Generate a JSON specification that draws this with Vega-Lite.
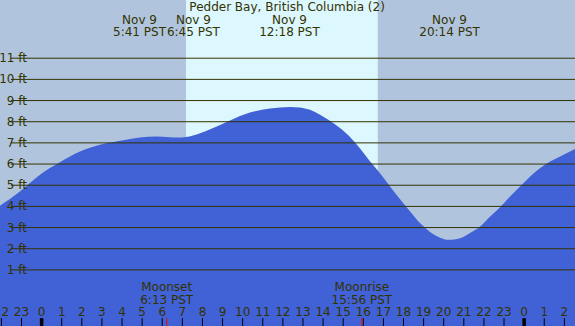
{
  "$schema": "https://vega.github.io/schema/vega-lite/v6.json",
  "width": 575,
  "height": 326,
  "padding": 0,
  "autosize": {"type": "none"},
  "background": "#b0c4de",
  "config": {"view": {"stroke": null, "fill": "#b0c4de"}, "text": {"font": "DejaVu Sans", "fontSize": 12, "color": "#333300"}},
  "datasets": {
    "tide": [
      {"h": -2.07, "ft": 4.03}, {"h": -1.08, "ft": 4.70}, {"h": -0.58, "ft": 5.10}, {"h": -0.08, "ft": 5.49},
      {"h": 0.41, "ft": 5.81}, {"h": 0.91, "ft": 6.09}, {"h": 1.41, "ft": 6.36}, {"h": 1.91, "ft": 6.59},
      {"h": 2.90, "ft": 6.91}, {"h": 3.90, "ft": 7.10}, {"h": 4.89, "ft": 7.26}, {"h": 5.68, "ft": 7.30},
      {"h": 6.38, "ft": 7.27}, {"h": 6.75, "ft": 7.25}, {"h": 7.18, "ft": 7.28}, {"h": 7.88, "ft": 7.46},
      {"h": 8.71, "ft": 7.78}, {"h": 9.37, "ft": 8.06}, {"h": 10.36, "ft": 8.43}, {"h": 11.36, "ft": 8.62},
      {"h": 11.86, "ft": 8.67}, {"h": 12.36, "ft": 8.70}, {"h": 12.85, "ft": 8.67}, {"h": 13.35, "ft": 8.56},
      {"h": 13.85, "ft": 8.33}, {"h": 14.34, "ft": 8.04}, {"h": 14.84, "ft": 7.70},
      {"h": 15.34, "ft": 7.28}, {"h": 15.84, "ft": 6.73}, {"h": 16.34, "ft": 6.12}, {"h": 16.83, "ft": 5.57},
      {"h": 17.33, "ft": 4.94}, {"h": 17.83, "ft": 4.34}, {"h": 18.33, "ft": 3.76}, {"h": 18.82, "ft": 3.21},
      {"h": 19.32, "ft": 2.79}, {"h": 19.82, "ft": 2.52}, {"h": 20.23, "ft": 2.42}, {"h": 20.82, "ft": 2.50},
      {"h": 21.31, "ft": 2.74}, {"h": 21.81, "ft": 3.05}, {"h": 22.31, "ft": 3.52}, {"h": 22.80, "ft": 3.96},
      {"h": 23.30, "ft": 4.47}, {"h": 23.80, "ft": 4.94}, {"h": 24.30, "ft": 5.41}, {"h": 24.80, "ft": 5.81},
      {"h": 25.29, "ft": 6.12}, {"h": 25.79, "ft": 6.36}, {"h": 26.53, "ft": 6.71}
    ],
    "levels": [
      {"ft": 1, "label": "1 ft"}, {"ft": 2, "label": "2 ft"}, {"ft": 3, "label": "3 ft"}, {"ft": 4, "label": "4 ft"},
      {"ft": 5, "label": "5 ft"}, {"ft": 6, "label": "6 ft"}, {"ft": 7, "label": "7 ft"}, {"ft": 8, "label": "8 ft"},
      {"ft": 9, "label": "9 ft"}, {"ft": 10, "label": "10 ft"}, {"ft": 11, "label": "11 ft"}
    ],
    "hours": [
      {"h": -2, "label": "22"}, {"h": -1, "label": "23"}, {"h": 0, "label": "0", "mid": true}, {"h": 1, "label": "1"},
      {"h": 2, "label": "2"}, {"h": 3, "label": "3"}, {"h": 4, "label": "4"}, {"h": 5, "label": "5"},
      {"h": 6, "label": "6"}, {"h": 7, "label": "7"}, {"h": 8, "label": "8"}, {"h": 9, "label": "9"},
      {"h": 10, "label": "10"}, {"h": 11, "label": "11"}, {"h": 12, "label": "12"}, {"h": 13, "label": "13"},
      {"h": 14, "label": "14"}, {"h": 15, "label": "15"}, {"h": 16, "label": "16"}, {"h": 17, "label": "17"},
      {"h": 18, "label": "18"}, {"h": 19, "label": "19"}, {"h": 20, "label": "20"}, {"h": 21, "label": "21"},
      {"h": 22, "label": "22"}, {"h": 23, "label": "23"}, {"h": 24, "label": "0", "mid": true}, {"h": 25, "label": "1"},
      {"h": 26, "label": "2"}
    ],
    "events": [
      {"h": 4.87, "line1": "Nov 9", "line2": "5:41 PST"},
      {"h": 7.55, "line1": "Nov 9", "line2": "6:45 PST"},
      {"h": 12.33, "line1": "Nov 9", "line2": "12:18 PST"},
      {"h": 20.29, "line1": "Nov 9", "line2": "20:14 PST"}
    ],
    "moon": [
      {"h": 6.22, "line1": "Moonset", "line2": "6:13 PST"},
      {"h": 15.93, "line1": "Moonrise", "line2": "15:56 PST"}
    ]
  },
  "layer": [
    {
      "data": {"values": [{"start": 7.18, "end": 16.72}]},
      "mark": {"type": "rect", "color": "#ddf7ff"},
      "encoding": {
        "x": {"field": "start", "type": "quantitative", "scale": {"domain": [-2.07, 26.53], "nice": false, "zero": false}, "axis": null},
        "x2": {"field": "end"},
        "y": {"datum": 13.75, "type": "quantitative", "scale": {"domain": [-1.65, 13.75], "nice": false, "zero": false}, "axis": null},
        "y2": {"datum": -1.65}
      }
    },
    {
      "data": {"name": "tide"},
      "mark": {"type": "area", "color": "#4161d6", "interpolate": "monotone"},
      "encoding": {
        "x": {"field": "h", "type": "quantitative"},
        "y": {"field": "ft", "type": "quantitative"},
        "y2": {"datum": -1.65}
      }
    },
    {
      "data": {"name": "levels"},
      "mark": {"type": "rule", "color": "#333300", "strokeWidth": 1},
      "encoding": {
        "x": {"datum": -1.53, "type": "quantitative"},
        "x2": {"datum": 26.53},
        "y": {"field": "ft", "type": "quantitative"}
      }
    },
    {
      "data": {"name": "levels"},
      "mark": {"type": "text", "align": "right", "baseline": "alphabetic", "yOffset": 4},
      "encoding": {
        "x": {"datum": -0.73, "type": "quantitative"},
        "y": {"field": "ft", "type": "quantitative"},
        "text": {"field": "label"}
      }
    },
    {
      "data": {"values": [{"h": 12.21, "t": "Pedder Bay, British Columbia (2)"}]},
      "mark": {"type": "text", "align": "center", "baseline": "alphabetic"},
      "encoding": {
        "x": {"field": "h", "type": "quantitative"},
        "y": {"datum": 13.21, "type": "quantitative"},
        "text": {"field": "t"}
      }
    },
    {
      "data": {"name": "events"},
      "mark": {"type": "text", "align": "center", "baseline": "alphabetic"},
      "encoding": {
        "x": {"field": "h", "type": "quantitative"},
        "y": {"datum": 12.63, "type": "quantitative"},
        "text": {"field": "line1"}
      }
    },
    {
      "data": {"name": "events"},
      "mark": {"type": "text", "align": "center", "baseline": "alphabetic"},
      "encoding": {
        "x": {"field": "h", "type": "quantitative"},
        "y": {"datum": 12.07, "type": "quantitative"},
        "text": {"field": "line2"}
      }
    },
    {
      "data": {"name": "moon"},
      "mark": {"type": "text", "align": "center", "baseline": "alphabetic"},
      "encoding": {
        "x": {"field": "h", "type": "quantitative"},
        "y": {"datum": 0.01, "type": "quantitative"},
        "text": {"field": "line1"}
      }
    },
    {
      "data": {"name": "moon"},
      "mark": {"type": "text", "align": "center", "baseline": "alphabetic"},
      "encoding": {
        "x": {"field": "h", "type": "quantitative"},
        "y": {"datum": -0.6, "type": "quantitative"},
        "text": {"field": "line2"}
      }
    },
    {
      "data": {"name": "hours"},
      "mark": {"type": "text", "align": "center", "baseline": "alphabetic"},
      "encoding": {
        "x": {"field": "h", "type": "quantitative"},
        "y": {"datum": -1.17, "type": "quantitative"},
        "text": {"field": "label"}
      }
    },
    {
      "data": {"name": "hours"},
      "mark": {"type": "rule", "color": "#000000"},
      "encoding": {
        "x": {"field": "h", "type": "quantitative"},
        "y": {"datum": -1.28, "type": "quantitative"},
        "y2": {"datum": -1.65},
        "strokeWidth": {"condition": {"test": "datum.mid", "value": 3.5}, "value": 1}
      }
    },
    {
      "data": {"name": "moon"},
      "mark": {"type": "rule", "color": "#ff0000", "strokeWidth": 1},
      "encoding": {
        "x": {"field": "h", "type": "quantitative"},
        "y": {"datum": -1.28, "type": "quantitative"},
        "y2": {"datum": -1.65}
      }
    }
  ]
}
